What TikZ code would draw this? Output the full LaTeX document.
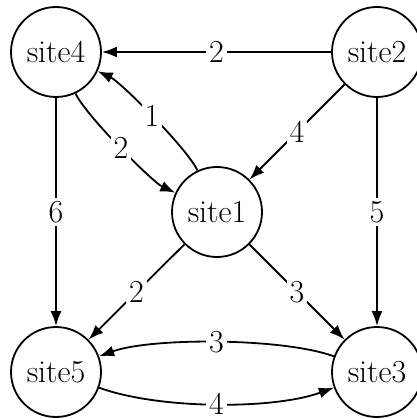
\documentclass[tikz,border=0pt]{standalone}
\usetikzlibrary{arrows.meta}
\begin{document}
\begin{tikzpicture}[x=1pt,y=-1pt,
 site/.style={circle,draw,line width=1.8pt,minimum size=90pt,inner sep=0pt,font=\fontsize{32}{36}\selectfont},
 edge/.style={line width=1.8pt,-{Latex[length=15pt,width=11pt]}},
 lbl/.style={fill=white,inner sep=3pt,font=\fontsize{32}{36}\selectfont}]
\useasboundingbox (0,0) rectangle (416,419);
\node[site] (s4) at (56,52) {site4};
\node[site] (s2) at (377,52) {site2};
\node[site] (s1) at (217,212) {site1};
\node[site] (s5) at (56,372) {site5};
\node[site] (s3) at (377,372) {site3};
\draw[edge] (s2) -- node[lbl]{2} (s4);
\draw[edge] (s1) to[bend right=20,looseness=0.45] node[lbl]{1} (s4);
\draw[edge] (s4) to[bend right=20,looseness=0.45] node[lbl]{2} (s1);
\draw[edge] (s2) -- node[lbl]{4} (s1);
\draw[edge] (s4) -- node[lbl]{6} (s5);
\draw[edge] (s2) -- node[lbl]{5} (s3);
\draw[edge] (s1) -- node[lbl]{2} (s5);
\draw[edge] (s1) -- node[lbl]{3} (s3);
\draw[edge] (s3) to[bend right=20,looseness=0.6] node[lbl]{3} (s5);
\draw[edge] (s5) to[bend right=20,looseness=0.7] node[lbl]{4} (s3);
\end{tikzpicture}
\end{document}
